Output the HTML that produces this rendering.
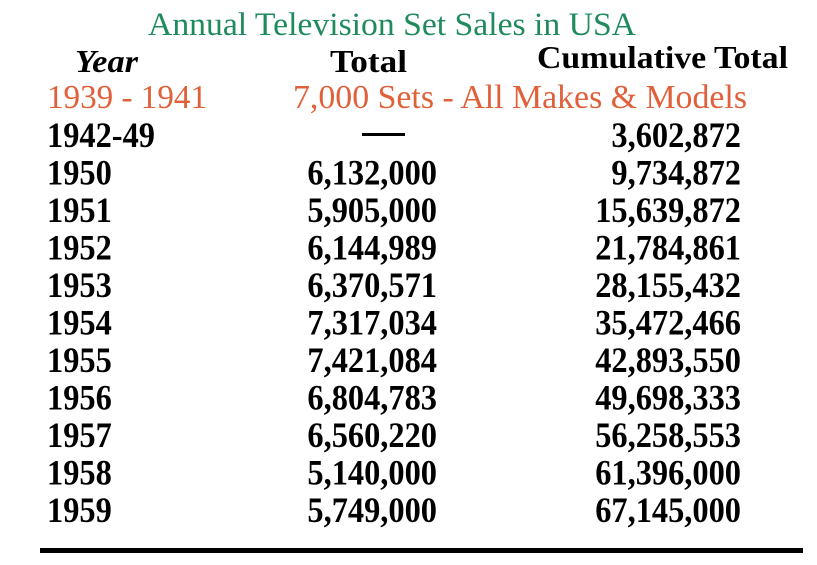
<!DOCTYPE html>
<html><head><meta charset="utf-8"><style>
html,body{margin:0;padding:0;background:#fff;}
svg{display:block;}
svg text{font-family:"Liberation Serif",serif;}
</style></head><body>
<svg id="tbl" width="817" height="565" viewBox="0 0 817 565">
<text x="148" y="35" font-family="Liberation Serif, serif" font-size="33" fill="#1f8a5c" textLength="488" lengthAdjust="spacingAndGlyphs">Annual Television Set Sales in USA</text>
<text x="75" y="72" font-family="Liberation Serif, serif" font-size="32" font-weight="bold" font-style="italic" fill="#000" textLength="63" lengthAdjust="spacingAndGlyphs">Year</text>
<text x="330" y="72" font-family="Liberation Serif, serif" font-size="32" font-weight="bold" fill="#000" textLength="77" lengthAdjust="spacingAndGlyphs">Total</text>
<text x="537" y="68" font-family="Liberation Serif, serif" font-size="32" font-weight="bold" fill="#000" textLength="251" lengthAdjust="spacingAndGlyphs">Cumulative Total</text>
<text x="47" y="108" font-family="Liberation Serif, serif" font-size="34" fill="#e0603a" textLength="160" lengthAdjust="spacingAndGlyphs">1939 - 1941</text>
<text x="293" y="108" font-family="Liberation Serif, serif" font-size="34" fill="#e0603a" textLength="454" lengthAdjust="spacingAndGlyphs">7,000 Sets - All Makes &amp; Models</text>
<rect x="40" y="548" width="763" height="5" fill="#000"/>
</svg>
<script>
const years = ["1942-49","1950","1951","1952","1953","1954","1955","1956","1957","1958","1959"];
const totals = [null,6132000,5905000,6144989,6370571,7317034,7421084,6804783,6560220,5140000,5749000];
const cumulative = [3602872,9734872,15639872,21784861,28155432,35472466,42893550,49698333,56258553,61396000,67145000];
const svg = document.getElementById('tbl');
const NS = 'http://www.w3.org/2000/svg';
function rowY(i){ return 147 + i * 37.5; }
function fmt(v){ return v.toLocaleString('en-US'); }
function mk(txt, x, y, anchor){
  const t = document.createElementNS(NS, 'text');
  t.setAttribute('x', x); t.setAttribute('y', y);
  t.setAttribute('font-family', 'Liberation Serif, serif');
  t.setAttribute('font-size', '36'); t.setAttribute('font-weight', 'bold');
  t.setAttribute('text-anchor', anchor); t.setAttribute('fill', '#000');
  t.textContent = txt; svg.appendChild(t);
  const w = t.getComputedTextLength();
  if (w > 0) { t.setAttribute('textLength', (w * 0.9).toFixed(1)); t.setAttribute('lengthAdjust', 'spacingAndGlyphs'); }
  return t;
}
years.forEach((yr, i) => {
  const y = rowY(i);
  const a = mk(yr, 47, y, 'start');
  
  
  if (totals[i] === null) {
    const d = document.createElementNS(NS, 'rect');
    d.setAttribute('x', 362); d.setAttribute('y', y - 14);
    d.setAttribute('width', 43); d.setAttribute('height', 3); d.setAttribute('fill', '#000');
    
    
    svg.appendChild(d);
  } else {
    const b = mk(fmt(totals[i]), 437, y, 'end');
    
    
  }
  const c = mk(fmt(cumulative[i]), 741, y, 'end');
  
  
});
</script>
</body></html>
